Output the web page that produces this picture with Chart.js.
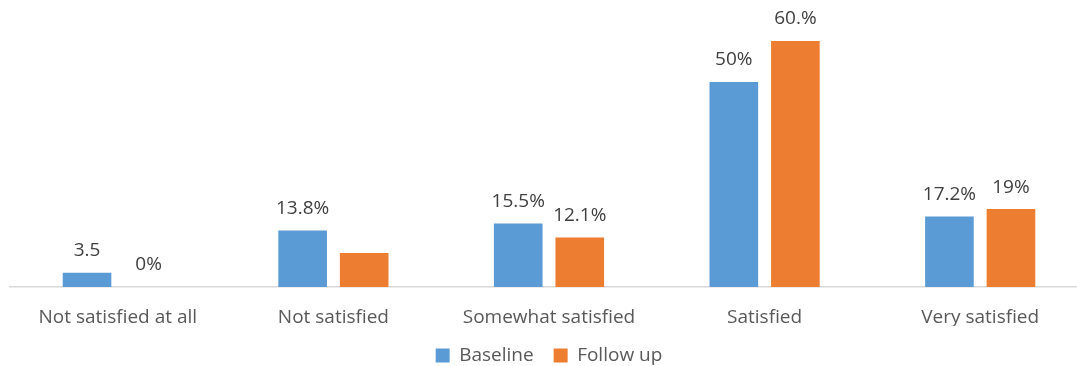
<!DOCTYPE html>
<html>
<head>
<meta charset="utf-8">
<script src="https://cdn.jsdelivr.net/npm/chart.js@4"></script>
<style>
  html, body { margin: 0; padding: 0; background: #ffffff; overflow: hidden; }
  #wrap { position: relative; width: 1088px; height: 366px; }
</style>
</head>
<body>
<div id="wrap"><canvas id="chart"></canvas></div>
<script>
// Satisfaction levels on the category axis
const categories = ["Not satisfied at all", "Not satisfied", "Somewhat satisfied", "Satisfied", "Very satisfied"];

// Percent of respondents per level
const baselineValues = [3.5, 13.8, 15.5, 50, 17.2];
const followUpValues = [0, 8.3, 12.1, 60, 19];

// Text printed above each bar (empty string = no label)
const baselineLabels = ["3.5", "13.8%", "15.5%", "50%", "17.2%"];
const followUpLabels = ["0%", "", "12.1%", "60.%", "19%"];

const FONT = "'Open Sans', 'Liberation Sans', sans-serif";

// Draws the per-bar value text above each bar
const barValueText = {
  id: "barValueText",
  afterDatasetsDraw(chart) {
    const ctx = chart.ctx;
    const texts = [baselineLabels, followUpLabels];
    ctx.save();
    ctx.font = "19px " + FONT;
    ctx.fillStyle = "#404040";
    ctx.textAlign = "center";
    ctx.textBaseline = "middle";
    chart.data.datasets.forEach((ds, di) => {
      const meta = chart.getDatasetMeta(di);
      meta.data.forEach((bar, i) => {
        const t = texts[di][i];
        if (t) ctx.fillText(t, bar.x, bar.y - 22);
      });
    });
    ctx.restore();
  }
};

new Chart(document.getElementById("chart"), {
  type: "bar",
  data: {
    labels: categories,
    datasets: [
      { label: "Baseline", data: baselineValues, backgroundColor: "#5B9BD5" },
      { label: "Follow up", data: followUpValues, backgroundColor: "#ED7D31" }
    ]
  },
  options: {
    responsive: true,
    maintainAspectRatio: false,
    animation: false,
    layout: { padding: { left: 10, right: 0, top: 0, bottom: -9 } },
    datasets: {
      bar: { categoryPercentage: 0.571, barPercentage: 0.79 }
    },
    scales: {
      x: {
        grid: { display: false, drawTicks: false },
        border: { display: true, color: "#D9D9D9", width: 1.5 },
        ticks: { color: "#595959", font: { family: FONT, size: 19 }, padding: 19 },
        afterFit(scale) { scale.height = 39; }
      },
      y: {
        display: false,
        min: 0,
        max: 70
      }
    },
    plugins: {
      legend: {
        position: "bottom",
        labels: {
          color: "#595959",
          font: { family: FONT, size: 19 },
          boxWidth: 14,
          boxHeight: 14,
          padding: 20
        }
      },
      tooltip: { enabled: false }
    }
  },
  plugins: [barValueText]
});
</script>
</body>
</html>
